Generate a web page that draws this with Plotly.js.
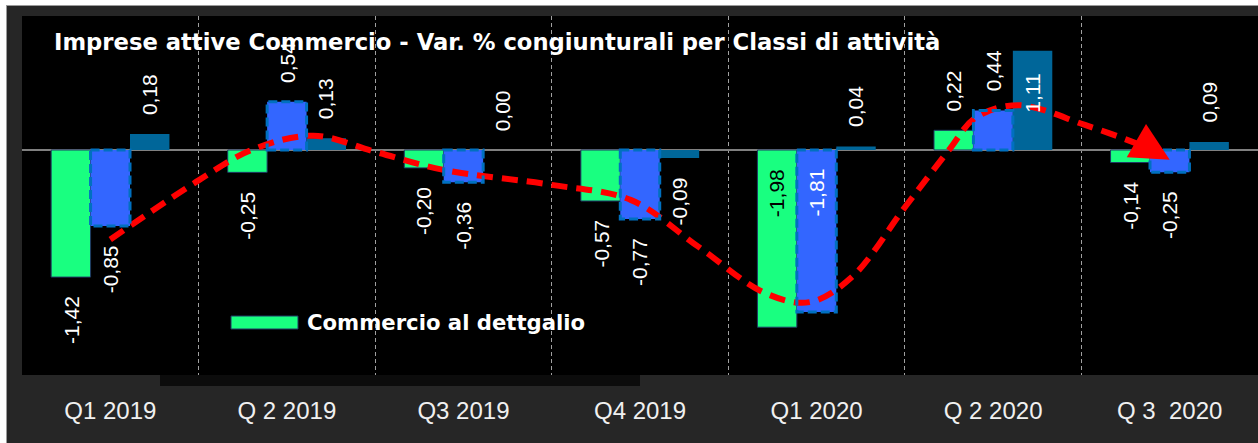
<!DOCTYPE html>
<html><head><meta charset="utf-8">
<script src="https://cdn.plot.ly/plotly-3.0.1.min.js"></script>
<style>
html,body{margin:0;padding:0;background:#fff;width:1258px;height:443px;overflow:hidden}
#frame{position:absolute;left:6px;top:5px;width:1252px;height:438px;background:#9a9a9a}
#chart{position:absolute;left:7px;top:6px;width:1251px;height:437px}
</style></head>
<body><div id="frame"></div><div id="chart"></div>
<script>
// ---- data ----
const categories = ["Q1 2019","Q 2 2019","Q3 2019","Q4 2019","Q1 2020","Q 2 2020","Q 3  2020"];
const seriesNames = ["Commercio al dettgalio","Serie 2","Serie 3"];
const retailVals = [-1.42,-0.25,-0.20,-0.57,-1.98,0.22,-0.14];
const secondVals = [-0.85,0.54,-0.36,-0.77,-1.81,0.44,-0.25];
const thirdVals  = [0.18,0.13,0.00,-0.09,0.04,1.11,0.09];
// hand-drawn red trend arrow (estimated points along the curve)
const trendX = [0.0,0.5,0.8,1.15,1.5,1.88,2.5,2.95,3.33,3.71,3.96,4.2,4.5,4.75,4.9,5.14,5.52,5.9,6.0];
const trendY = [-1.0,-0.34,0.0,0.16,-0.02,-0.22,-0.39,-0.56,-1.08,-1.6,-1.70,-1.42,-0.64,0.0,0.36,0.50,0.28,0.0,-0.11];
const titleText = "Imprese attive Commercio - Var. % congiunturali per Classi di attività";

// ---- styles ----
const W = 1251, H = 437;
const M = {l:15, r:0, t:10, b:68};
const plotH = H - M.t - M.b;
const yRange = [-2.514, 1.497];
const ppu = plotH/(yRange[1]-yRange[0]);
const bargap = 0.33;
const bw = (1-bargap)/3;
const colors = ["#19FF80","#3366FF","#006699"];
const idx = categories.map((c,i)=>i);
const series = [retailVals, secondVals, thirdVals];
const fmt = v => v.toFixed(2).replace('.', ',');

const traces = series.map((vals,s)=>({
  type:'bar', x: idx, y: vals, name: seriesNames[s], showlegend:false,
  marker:{color:colors[s], line:{color: s===0 ? '#203864' : colors[s], width: s===0?1:0}},
  hoverinfo:'skip'
}));
traces.push({
  type:'scatter', mode:'lines', x: trendX, y: trendY, showlegend:false, hoverinfo:'skip',
  line:{color:'#FF0000', width:6, dash:'16px,9px', shape:'spline', smoothing:1}
});

const labelFont = {family:'"Liberation Sans", Arial, sans-serif', size:21, color:'#ffffff'};
const annotations = [{
  xref:'paper', yref:'paper', x:(52-22)/1236, y:(375-42)/359, xanchor:'left', yanchor:'middle',
  text:'<b>'+titleText+'</b>', showarrow:false,
  font:{family:'"DejaVu Sans", sans-serif', size:22.7, color:'#ffffff'}
}];
const LEN = 50, GAP = 17;
series.forEach((vals,s)=>{
  const off = (s-1)*bw;
  vals.forEach((v,i)=>{
    const neg = v < 0;
    const room = neg ? -yRange[0]*ppu : yRange[1]*ppu;
    const outside = Math.abs(v)*ppu + GAP + LEN <= room;
    const a = {x:i+off, xref:'x', yref:'y', text:fmt(v), showarrow:false, textangle:-90,
      font:Object.assign({}, labelFont)};
    if (outside) {
      a.y = v; a.yanchor = neg ? 'top':'bottom'; a.yshift = neg ? -GAP : GAP;
    } else if (neg) {
      a.y = 0; a.yanchor = 'top'; a.yshift = -GAP;
      if (s===0) a.font.color = '#000000';
    } else {
      a.y = v; a.yanchor = 'top'; a.yshift = -21;
    }
    annotations.push(a);
  });
});
// arrow head at the end of the red curve
const n = trendX.length;
annotations.push({x:trendX[n-1], y:trendY[n-1], ax:trendX[n-2]+0.03, ay:trendY[n-2]-0.03, xref:'x', yref:'y',
  axref:'x', ayref:'y', text:'', showarrow:true, arrowhead:2, arrowsize:2.2, arrowwidth:3.5, arrowcolor:'#FF0000'});
// legend text
annotations.push({xref:'paper', yref:'paper', x:(305-22)/1236, y:(375-322)/359, xanchor:'left', yanchor:'middle',
  text:'<b>'+seriesNames[0]+'</b>', showarrow:false,
  font:{family:'"DejaVu Sans", sans-serif', size:21.2, color:'#ffffff'}});

const shapes = [];
// dashed outline for the second series
secondVals.forEach((v,i)=>{
  shapes.push({type:'rect', xref:'x', yref:'y', x0:i-bw/2, x1:i+bw/2, y0:0, y1:v,
    line:{color:'#0070C0', width:3, dash:'9px,4px'}, layer:'above'});
});
// legend swatch
shapes.push({type:'rect', xref:'paper', yref:'paper', x0:(231-22)/1236, x1:(298-22)/1236,
  y0:(375-329)/359, y1:(375-316)/359, fillcolor:colors[0], line:{color:'#203864', width:1}});
// dark strip under plot
shapes.push({type:'rect', xref:'paper', yref:'paper', x0:(160-22)/1236, x1:(640-22)/1236,
  y0:-11/359, y1:0, fillcolor:'#0c0c0c', line:{width:0}});

const layout = {
  width:W, height:H, margin:M,
  paper_bgcolor:'#262626', plot_bgcolor:'#000000',
  barmode:'group', bargap:bargap, bargroupgap:0,
  showlegend:false,
  xaxis:{range:[-0.5,6.5], tickmode:'array', tickvals:idx, ticktext:categories,
    showgrid:false, zeroline:false, ticks:'', showline:false,
    tickfont:{family:'"Liberation Sans", Arial, sans-serif', size:24, color:'#f0f0f0'},
    ticklabelstandoff:19,
    minor:{tickmode:'linear', tick0:-0.5, dtick:1, showgrid:true, gridcolor:'#a0a0a0', gridwidth:1, griddash:'4px,3px', ticks:''}
  },
  yaxis:{range:yRange, showgrid:false, showticklabels:false, zeroline:true, zerolinecolor:'#808080', zerolinewidth:2, ticks:''},
  annotations:annotations, shapes:shapes
};
Plotly.newPlot('chart', traces, layout, {displayModeBar:false, staticPlot:true});
</script></body></html>
